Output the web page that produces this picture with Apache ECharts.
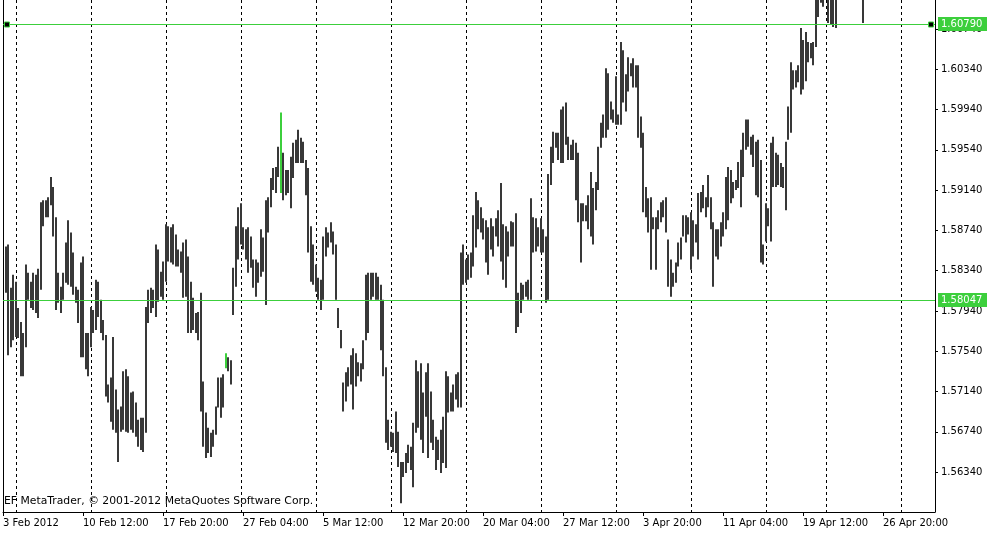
<!DOCTYPE html>
<html>
<head>
<meta charset="utf-8">
<script src="https://cdn.jsdelivr.net/npm/echarts@6.0.0/dist/echarts.min.js"></script>
<style>
html,body{margin:0;padding:0;background:#fff;}
#chart{width:1001px;height:538px;}
</style>
</head>
<body>
<div id="chart"></div>
<script>
// H4 bars, index 0 = 3 Feb 2012 00:00 (first bar hidden behind the frame)
const highs = [null,
1.5858,1.5860,1.5817,1.5830,1.5823,1.5797,1.5783,1.5772,1.5840,1.5832,
1.5823,1.5832,1.5830,1.5836,1.5902,1.5904,1.5904,1.5907,1.5927,1.5917,
1.5887,1.5832,1.5818,1.5832,1.5862,1.5884,1.5872,1.5852,1.5818,1.5815,
1.5842,1.5848,1.5772,1.5772,1.5798,1.5795,1.5825,1.5823,1.5805,1.5785,
1.5770,1.5721,1.5728,1.5768,1.5716,1.5696,1.5699,1.5734,1.5736,1.5729,
1.5713,1.5714,1.5703,1.5686,1.5688,1.5688,1.5798,1.5815,1.5817,1.5815,
1.5860,1.5855,1.5833,1.5843,1.5880,1.5878,1.5877,1.5880,1.5870,1.5855,
1.5853,1.5862,1.5865,1.5848,1.5823,1.5807,1.5792,1.5793,1.5812,1.5724,
1.5693,1.5678,1.5673,1.5676,1.5699,1.5728,1.5728,1.5731,1.5752,1.5748,
1.5745,1.5837,1.5878,1.5897,1.5901,1.5877,1.5875,1.5877,1.5868,1.5845,
1.5845,1.5842,1.5875,1.5867,1.5904,1.5907,1.5926,1.5936,1.5937,1.5957,
1.5991,1.5951,1.5934,1.5934,1.5947,1.5961,1.5964,1.5974,1.5966,1.5962,
1.5944,1.5936,1.5878,1.5860,1.5840,1.5827,1.5825,1.5868,1.5877,1.5872,
1.5882,1.5873,1.5860,1.5797,1.5775,1.5723,1.5733,1.5738,1.5750,1.5757,
1.5752,1.5743,1.5742,1.5765,1.5830,1.5832,1.5832,1.5832,1.5832,1.5828,
1.5820,1.5805,1.5738,1.5686,1.5674,1.5673,1.5694,1.5674,1.5644,1.5644,
1.5653,1.5661,1.5659,1.5683,1.5745,1.5734,1.5742,1.5713,1.5733,1.5742,
1.5714,1.5686,1.5669,1.5666,1.5676,1.5689,1.5734,1.5729,1.5713,1.5721,
1.5731,1.5733,1.5852,1.5860,1.5845,1.5850,1.5852,1.5889,1.5912,1.5904,
1.5897,1.5886,1.5884,1.5877,1.5886,1.5878,1.5886,1.5894,1.5921,1.5880,
1.5878,1.5873,1.5883,1.5882,1.5891,1.5812,1.5822,1.5820,1.5823,1.5825,
1.5906,1.5887,1.5886,1.5877,1.5886,1.5875,1.5868,1.5930,1.5957,1.5972,
1.5971,1.5971,1.5994,1.5997,1.6001,1.5967,1.5959,1.5964,1.5961,1.5951,
1.5901,1.5901,1.5899,1.5909,1.5932,1.5916,1.5922,1.5957,1.5981,1.5989,
1.6035,1.6030,1.6002,1.5994,1.6027,1.5989,1.6061,1.6053,1.6029,1.6046,
1.6040,1.6045,1.6038,1.6038,1.5987,1.5971,1.5917,1.5906,1.5907,1.5887,
1.5887,1.5894,1.5902,1.5904,1.5907,1.5865,1.5845,1.5832,1.5842,1.5862,
1.5867,1.5889,1.5889,1.5887,1.5892,1.5884,1.5880,1.5911,1.5912,1.5919,
1.5907,1.5929,1.5907,1.5882,1.5875,1.5875,1.5882,1.5892,1.5927,1.5937,
1.5934,1.5922,1.5924,1.5942,1.5954,1.5971,1.5984,1.5984,1.5967,1.5969,
1.5962,1.5964,1.5944,1.5860,1.5901,1.5896,1.5961,1.5967,1.5951,1.5949,
1.5941,1.5937,1.5962,1.5997,1.6041,1.6033,1.6033,1.6038,1.6075,1.6063,
1.6071,1.6061,1.6060,1.6061,1.6110,1.6120,1.6125,1.6120,1.6135,1.6125,
1.6120,1.6118,1.6115,1.6130,1.6140,1.6150,1.6145,1.6160,1.6150,1.6140,
1.6135,1.6125,1.6120,1.6120];

const lows = [null,
1.5812,1.5750,1.5758,1.5765,1.5768,1.5767,1.5729,1.5729,1.5758,1.5805,
1.5797,1.5795,1.5792,1.5787,1.5815,1.5878,1.5887,1.5887,1.5899,1.5868,
1.5795,1.5802,1.5792,1.5805,1.5822,1.5820,1.5818,1.5810,1.5802,1.5782,
1.5748,1.5748,1.5736,1.5729,1.5758,1.5772,1.5775,1.5788,1.5772,1.5765,
1.5709,1.5703,1.5684,1.5676,1.5673,1.5644,1.5674,1.5676,1.5674,1.5673,
1.5676,1.5673,1.5669,1.5659,1.5656,1.5654,1.5673,1.5782,1.5792,1.5797,
1.5788,1.5803,1.5808,1.5805,1.5823,1.5843,1.5842,1.5840,1.5838,1.5838,
1.5832,1.5807,1.5808,1.5772,1.5772,1.5775,1.5772,1.5765,1.5694,1.5659,
1.5648,1.5653,1.5649,1.5659,1.5671,1.5698,1.5688,1.5698,1.5737,1.5734,
1.5721,1.5790,1.5818,1.5845,1.5860,1.5855,1.5845,1.5832,1.5837,1.5817,
1.5808,1.5822,1.5828,1.5833,1.5800,1.5872,1.5897,1.5914,1.5911,1.5927,
1.5911,1.5904,1.5909,1.5911,1.5896,1.5926,1.5941,1.5941,1.5941,1.5941,
1.5909,1.5852,1.5823,1.5820,1.5813,1.5805,1.5795,1.5805,1.5848,1.5857,
1.5862,1.5850,1.5805,1.5777,1.5757,1.5694,1.5704,1.5719,1.5721,1.5696,
1.5719,1.5729,1.5724,1.5736,1.5765,1.5772,1.5805,1.5808,1.5805,1.5805,
1.5755,1.5729,1.5663,1.5656,1.5659,1.5654,1.5653,1.5639,1.5603,1.5629,
1.5633,1.5643,1.5636,1.5619,1.5673,1.5678,1.5666,1.5653,1.5689,1.5648,
1.5663,1.5656,1.5636,1.5646,1.5633,1.5643,1.5638,1.5693,1.5694,1.5694,
1.5706,1.5698,1.5698,1.5820,1.5822,1.5825,1.5827,1.5838,1.5857,1.5875,
1.5872,1.5865,1.5842,1.5830,1.5855,1.5848,1.5868,1.5858,1.5843,1.5825,
1.5817,1.5848,1.5858,1.5858,1.5772,1.5778,1.5792,1.5805,1.5808,1.5805,
1.5805,1.5852,1.5853,1.5858,1.5852,1.5852,1.5802,1.5805,1.5919,1.5941,
1.5956,1.5944,1.5941,1.5941,1.5959,1.5944,1.5944,1.5944,1.5904,1.5882,
1.5842,1.5883,1.5883,1.5875,1.5868,1.5860,1.5894,1.5914,1.5956,1.5966,
1.5966,1.5974,1.5984,1.5981,1.5979,1.5979,1.5979,1.6001,1.5992,1.6012,
1.6027,1.6016,1.6016,1.5966,1.5956,1.5892,1.5887,1.5872,1.5835,1.5875,
1.5835,1.5875,1.5882,1.5887,1.5872,1.5818,1.5808,1.5818,1.5822,1.5838,
1.5845,1.5868,1.5862,1.5870,1.5835,1.5848,1.5862,1.5845,1.5892,1.5896,
1.5887,1.5897,1.5875,1.5818,1.5848,1.5845,1.5858,1.5868,1.5875,1.5884,
1.5901,1.5906,1.5914,1.5916,1.5897,1.5927,1.5954,1.5957,1.5949,1.5937,
1.5909,1.5907,1.5842,1.5840,1.5863,1.5878,1.5863,1.5917,1.5917,1.5919,
1.5917,1.5916,1.5894,1.5964,1.5971,1.6014,1.6016,1.6021,1.6009,1.6014,
1.6022,1.6041,1.6045,1.6038,1.6056,1.6086,1.6100,1.6096,1.6105,1.6080,
1.6078,1.6076,1.6075,1.6105,1.6115,1.6120,1.6118,1.6130,1.6125,1.6112,
1.6108,1.6104,1.6106,1.6080];

const greenBars = [89, 111];
const timeLabels = ['3 Feb 2012','10 Feb 12:00','17 Feb 20:00','27 Feb 04:00','5 Mar 12:00','12 Mar 20:00',
  '20 Mar 04:00','27 Mar 12:00','3 Apr 20:00','11 Apr 04:00','19 Apr 12:00','26 Apr 20:00'];
const timeLabelBars = [0,32,64,96,128,160,192,224,256,288,320,352];
const priceTicks = [1.60740,1.60340,1.59940,1.59540,1.59140,1.58740,1.58340,1.57940,1.57540,1.57140,1.56740,1.56340];
const levelLines = [1.60790, 1.58047];
const weekStartBars = [5,35,65,95,125,155,185,215,245,275,305,329,359];
const watermark = 'EF MetaTrader, \u00a9 2001-2012 MetaQuotes Software Corp.';

const FONT = 'DejaVu Sans';
const GREEN = '#3ccf3c';
const BAR = '#383838';
const PRICE_MIN = 1.55943, PRICE_MAX = 1.61028;
const SLOTS = 372.8;

const barData = [];
highs.forEach((h, j) => {
  if (h != null && lows[j] != null) barData.push([j, h, lows[j], greenBars.includes(j) ? 1 : 0]);
});

const chart = echarts.init(document.getElementById('chart'), null, {renderer: 'canvas'});
chart.setOption({
  animation: false,
  backgroundColor: '#ffffff',
  grid: {left: 3, right: 66, top: 0, bottom: 26, containLabel: false},
  xAxis: {
    type: 'value', min: 0, max: SLOTS,
    splitLine: {show: false},
    axisLine: {show: true, onZero: false, lineStyle: {color: '#000', width: 1}},
    axisTick: {show: true, customValues: timeLabelBars, length: 4, lineStyle: {color: '#000', width: 1}},
    axisLabel: {
      show: true, customValues: timeLabelBars, align: 'left', margin: 6,
      formatter: v => { const k = timeLabelBars.indexOf(Math.round(v)); return k >= 0 ? timeLabels[k] : ''; },
      color: '#000', fontFamily: FONT, fontSize: 10
    }
  },
  yAxis: [{
    type: 'value', position: 'right', min: PRICE_MIN, max: PRICE_MAX,
    splitLine: {show: false},
    axisLine: {show: true, onZero: false, lineStyle: {color: '#000', width: 1}},
    axisTick: {show: true, customValues: priceTicks, length: 3, lineStyle: {color: '#000'}},
    axisLabel: {show: true, customValues: priceTicks, margin: 6, formatter: v => v.toFixed(5),
      color: '#000', fontFamily: FONT, fontSize: 10}
  }, {
    type: 'value', position: 'left', min: PRICE_MIN, max: PRICE_MAX,
    splitLine: {show: false},
    axisLine: {show: true, onZero: false, lineStyle: {color: '#000', width: 1}},
    axisTick: {show: false}, axisLabel: {show: false}
  }],
  graphic: [{
    type: 'text', left: 4, top: 496, z: 100,
    style: {text: watermark, fill: '#000', font: '10.8px "DejaVu Sans"'}
  }],
  series: [{
    // weekly period separators
    type: 'custom',
    name: 'separators',
    clip: true,
    z: 1,
    data: weekStartBars.map(j => [j, PRICE_MIN]),
    encode: {x: 0, y: 1},
    renderItem: function (params, api) {
      const cs = params.coordSys;
      const x = Math.round(api.coord([api.value(0), PRICE_MIN])[0]) + 0.5;
      return {
        type: 'line',
        shape: {x1: x, y1: cs.y, x2: x, y2: cs.y + cs.height},
        style: {stroke: '#000', lineWidth: 1, lineDash: [3, 3]}
      };
    }
  }, {
    type: 'custom',
    name: 'bars',
    clip: true,
    z: 2,
    data: barData,
    encode: {x: 0, y: [1, 2]},
    renderItem: function (params, api) {
      const j = api.value(0);
      const top = api.coord([j, api.value(1)]);
      const bot = api.coord([j, api.value(2)]);
      return {
        type: 'rect',
        shape: {x: Math.round(top[0]) - 1, y: top[1], width: 2, height: Math.max(1, bot[1] - top[1])},
        style: {fill: api.value(3) ? GREEN : BAR}
      };
    }
  }, {
    // horizontal price levels with their price tags
    type: 'custom',
    name: 'levels',
    clip: false,
    z: 5,
    data: levelLines.map((v, k) => [0, v, k === 0 ? 1 : 0]),
    encode: {x: 0, y: 1},
    renderItem: function (params, api) {
      const cs = params.coordSys;
      const v = api.value(1);
      const y = Math.round(api.coord([0, v])[1]) + 0.5;
      const right = cs.x + cs.width;
      const kids = [
        {type: 'line', shape: {x1: cs.x, y1: y, x2: right, y2: y}, style: {stroke: GREEN, lineWidth: 1}},
        {type: 'rect', shape: {x: right + 3, y: y - 7.5, width: 49, height: 14}, style: {fill: GREEN}},
        {type: 'text', x: right + 6, y: y,
          style: {text: v.toFixed(5), fill: '#ffffff', font: '10px "DejaVu Sans"', verticalAlign: 'middle', align: 'left'}}
      ];
      if (api.value(2)) {
        kids.push({type: 'rect', shape: {x: cs.x + 1.5, y: y - 2.5, width: 5, height: 5}, style: {fill: '#000', stroke: GREEN, lineWidth: 1}});
        kids.push({type: 'rect', shape: {x: right - 6.5, y: y - 2.5, width: 5, height: 5}, style: {fill: '#000', stroke: GREEN, lineWidth: 1}});
      }
      return {type: 'group', children: kids};
    }
  }]
});
</script>
</body>
</html>
